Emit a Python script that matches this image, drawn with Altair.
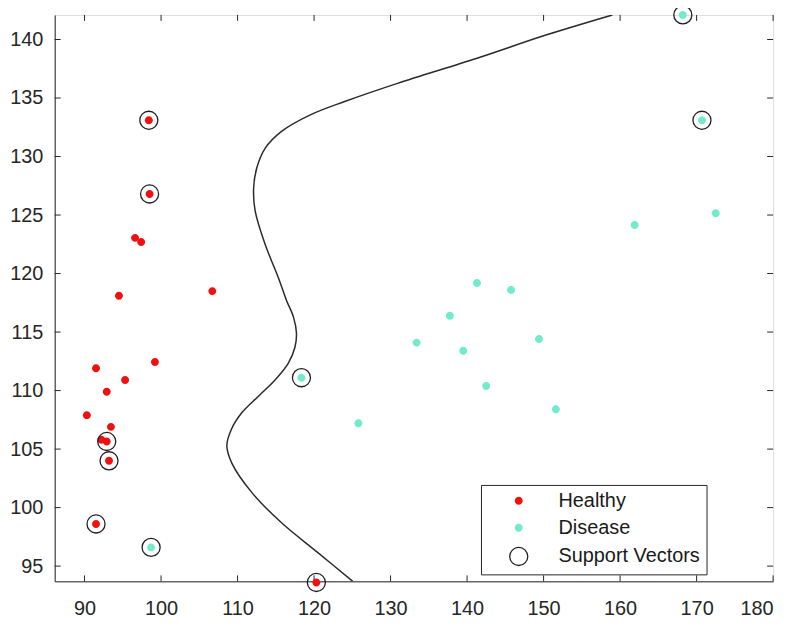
import altair as alt
import pandas as pd

# ---- data ----
healthy_x = [98.4, 98.5, 96.6, 97.4, 94.5, 106.7, 91.5, 99.2, 95.3, 92.9, 90.3, 93.45, 92.2, 92.9, 93.2, 91.5, 120.3]
healthy_y = [133.1, 126.8, 123.05, 122.7, 118.1, 118.5, 111.9, 112.45, 110.9, 109.9, 107.9, 106.9, 105.8, 105.65, 104.0, 98.6, 93.6]
healthy_sv = [1, 1, 0, 0, 0, 0, 0, 0, 0, 0, 0, 0, 0, 1, 1, 1, 1]

disease_x = [98.7, 118.35, 125.8, 133.4, 137.75, 139.5, 141.3, 142.5, 145.75, 149.4, 151.6, 161.9, 172.5, 170.7, 168.2]
disease_y = [96.6, 111.1, 107.2, 114.1, 116.4, 113.4, 119.2, 110.4, 118.6, 114.4, 108.4, 124.15, 125.15, 133.1, 142.1]
disease_sv = [1, 1, 0, 0, 0, 0, 0, 0, 0, 0, 0, 0, 0, 1, 1]

boundary_x = [125.06, 120.5, 115.75, 111.85, 109.25, 108.6, 109.2, 110.55, 112.7, 114.9, 116.6, 117.5,
              117.7, 117.3, 116.4, 115.3, 113.6, 112.3, 112.1, 112.5, 113.6, 115.75, 119.65, 124.0,
              130.9, 141.3, 150.4, 159.0]
boundary_y = [93.7, 96.15, 98.7, 101.3, 103.8, 105.3, 106.7, 108.1, 109.5, 110.9, 112.3, 113.7,
              114.9, 116.3, 117.7, 119.7, 122.5, 125.35, 127.3, 129.0, 130.7, 132.15, 133.6, 134.7,
              136.25, 138.4, 140.4, 142.1]

x_ticks = [90, 100, 110, 120, 130, 140, 150, 160, 170, 180]
y_ticks = [95, 100, 105, 110, 115, 120, 125, 130, 135, 140]

labels = ["Healthy", "Disease", "Support Vectors"]
x_domain = [86.1, 180]
y_domain = [93.7, 142.1]

# ---- tables ----
rows = []
for x, y in zip(healthy_x, healthy_y):
    rows.append({"x": x, "y": y, "label": "Healthy"})
for x, y in zip(disease_x, disease_y):
    rows.append({"x": x, "y": y, "label": "Disease"})
for xs, ys, svs in [(healthy_x, healthy_y, healthy_sv), (disease_x, disease_y, disease_sv)]:
    for x, y, s in zip(xs, ys, svs):
        if s:
            rows.append({"x": x, "y": y, "label": "Support Vectors"})
pts = pd.DataFrame(rows)
bnd = pd.DataFrame({"x": boundary_x, "y": boundary_y, "i": list(range(len(boundary_x)))})
xt = pd.DataFrame({"x": x_ticks})
yt = pd.DataFrame({"y": y_ticks})

W, H = 723, 570
AX = "#262626"
FONT = "Liberation Sans"
FS = 20

# small dot drawn inside the (larger) symbol box; the support-vector ring uses the full circle
DOT = "M -0.44,0 A 0.44,0.44 0 1,1 0.44,0 A 0.44,0.44 0 1,1 -0.44,0 Z"

xscale = alt.Scale(domain=x_domain, nice=False, zero=False)
yscale = alt.Scale(domain=y_domain, nice=False, zero=False)

xaxis = alt.Axis(values=x_ticks, grid=False, ticks=False, tickSize=0, labelPadding=17,
                 labelFontSize=FS, labelFont=FONT, labelColor=AX, domainColor=AX, title=None)
yaxis = alt.Axis(values=y_ticks, grid=False, ticks=False, tickSize=0, labelPadding=12,
                 labelFontSize=FS, labelFont=FONT, labelColor=AX, domainColor=AX, title=None)

line = alt.Chart(bnd).mark_line(color="#2b2b2b", strokeWidth=1.5, interpolate="catmull-rom", clip=True).encode(
    x=alt.X("x:Q", scale=xscale, axis=xaxis),
    y=alt.Y("y:Q", scale=yscale, axis=yaxis),
    order=alt.Order("i:Q"),
)

legend = alt.Legend(orient="none", legendX=429, legendY=473, labelFontSize=FS, labelFont=FONT,
                    labelColor="#1a1a1a", strokeColor=AX, fillColor="white", padding=6,
                    rowPadding=7, symbolOffset=22, labelOffset=30, symbolSize=330,
                    symbolStrokeWidth=1.3)

points = alt.Chart(pts).mark_point(filled=True, opacity=1, strokeWidth=1.3, size=330).encode(
    x=alt.X("x:Q", scale=xscale),
    y=alt.Y("y:Q", scale=yscale),
    fill=alt.Fill("label:N", scale=alt.Scale(domain=labels, range=["#f01010", "#72ebcc", "transparent"]),
                  legend=legend, title=None),
    stroke=alt.Stroke("label:N", scale=alt.Scale(domain=labels, range=["transparent", "transparent", "#1e1e1e"]),
                      legend=legend, title=None),
    shape=alt.Shape("label:N", scale=alt.Scale(domain=labels, range=[DOT, DOT, "circle"]),
                    legend=legend, title=None),
)

xt_bottom = alt.Chart(xt).mark_rule(color=AX, strokeWidth=1).encode(
    x=alt.X("x:Q", scale=xscale), y=alt.value(H), y2=alt.value(H - 6))
xt_top = alt.Chart(xt).mark_rule(color=AX, strokeWidth=1).encode(
    x=alt.X("x:Q", scale=xscale), y=alt.value(0), y2=alt.value(6))
yt_left = alt.Chart(yt).mark_rule(color=AX, strokeWidth=1).encode(
    y=alt.Y("y:Q", scale=yscale), x=alt.value(0), x2=alt.value(6))
yt_right = alt.Chart(yt).mark_rule(color=AX, strokeWidth=1).encode(
    y=alt.Y("y:Q", scale=yscale), x=alt.value(W), x2=alt.value(W - 6))

chart = alt.layer(line, xt_bottom, xt_top, yt_left, yt_right, points).properties(
    width=W, height=H,
    autosize=alt.AutoSizeParams(type="none"),
    padding={"left": 47, "top": 5, "right": 18, "bottom": 46},
).configure_view(stroke=AX, strokeWidth=1).configure(background="white")

chart.save("out.html", embed_options={"renderer": "svg", "actions": False})
